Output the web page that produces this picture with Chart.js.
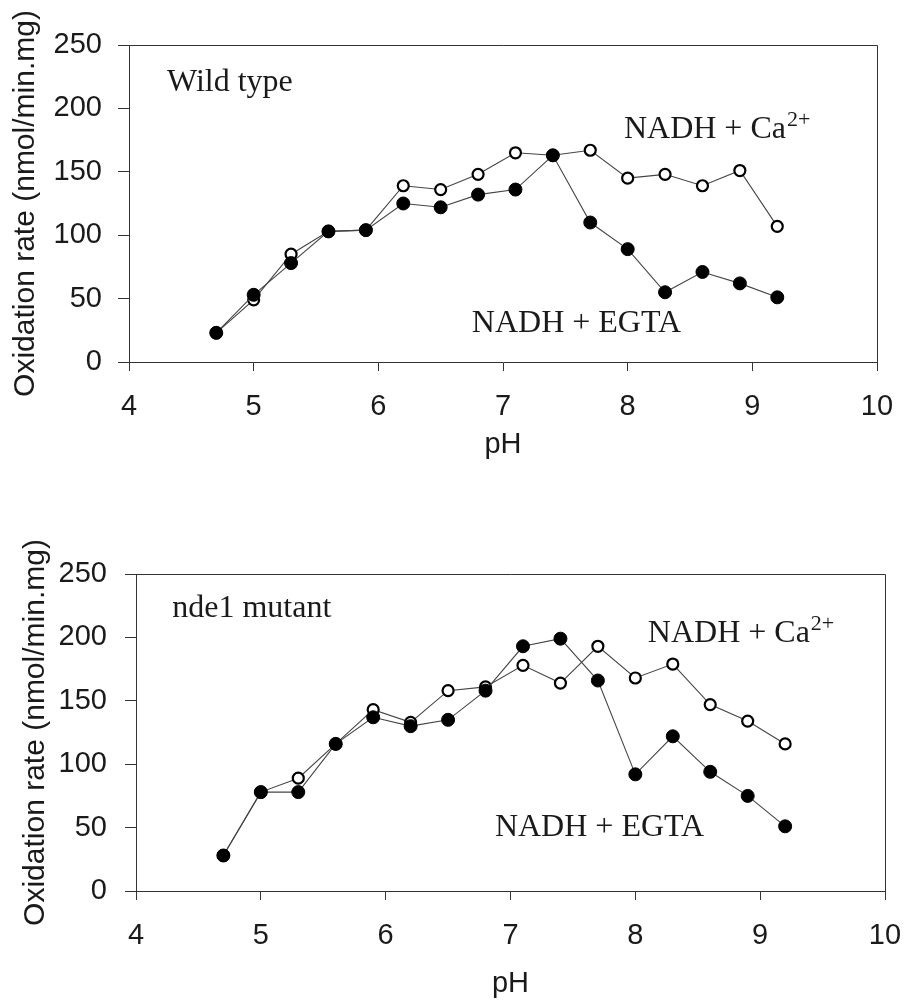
<!DOCTYPE html>
<html>
<head>
<meta charset="utf-8">
<script src="https://cdn.jsdelivr.net/npm/chart.js@4/dist/chart.umd.min.js"></script>
<style>
  html, body { margin: 0; padding: 0; background: #fff; }
  .wrap { position: absolute; left: 0; width: 905px; height: 500px; }
  canvas { display: block; }
</style>
</head>
<body>
<div class="wrap" style="top:0"><canvas id="c1" width="905" height="500"></canvas></div>
<div class="wrap" style="top:500px"><canvas id="c2" width="905" height="500"></canvas></div>
<script>
// ---- Data ----
const pH = [4.7, 5.0, 5.3, 5.6, 5.9, 6.2, 6.5, 6.8, 7.1, 7.4, 7.7, 8.0, 8.3, 8.6, 8.9, 9.2];

// Wild type
const wtCa   = [23, 49, 85, 103, 104, 139, 136, 148, 165, 163, 167, 145, 148, 139, 151, 107];
const wtEGTA = [23, 53, 78, 103, 104, 125, 122, 132, 136, 163, 110, 89, 55, 71, 62, 51];

// nde1 mutant
const mutCa   = [28, 78, 89, 116, 143, 133, 158, 161, 178, 164, 193, 168, 179, 147, 134, 116];
const mutEGTA = [28, 78, 78, 116, 137, 130, 135, 158, 193, 199, 166, 92, 122, 94, 75, 51];

const xTicks = [4, 5, 6, 7, 8, 9, 10];
const yTicks = [0, 50, 100, 150, 200, 250];
const yTitle = 'Oxidation rate (nmol/min.mg)';
const xTitle = 'pH';

// ---- Helpers ----
const toXY = (ys) => pH.map((x, i) => ({ x: x, y: ys[i] }));
const INK = '#1a1a1a';
const SANS = "'Liberation Sans', Arial, sans-serif";
const SERIF = "'Liberation Serif', 'Times New Roman', serif";

const framePlugin = {
  id: 'frame',
  beforeDatasetsDraw(chart) {
    const a = chart.chartArea, ctx = chart.ctx;
    ctx.save();
    ctx.strokeStyle = '#333';
    ctx.lineWidth = 1;
    ctx.beginPath();
    ctx.moveTo(a.left, a.top + 0.5);
    ctx.lineTo(a.right + 0.5, a.top + 0.5);
    ctx.lineTo(a.right + 0.5, a.bottom);
    ctx.stroke();
    ctx.restore();
  }
};

const labelPlugin = {
  id: 'labels',
  afterDatasetsDraw(chart, args, opts) {
    const ctx = chart.ctx, xs = chart.scales.x, ys = chart.scales.y;
    ctx.save();
    ctx.fillStyle = INK;
    ctx.textBaseline = 'alphabetic';
    ctx.textAlign = 'left';
    (opts.items || []).forEach(it => {
      const px = xs.getPixelForValue(it.x);
      const py = ys.getPixelForValue(it.y);
      ctx.font = '32px ' + SERIF;
      ctx.fillText(it.text, px, py);
      if (it.sup) {
        const w = ctx.measureText(it.text).width;
        ctx.font = '22px ' + SERIF;
        ctx.fillText(it.sup, px + w + 1, py - 12);
      }
    });
    ctx.restore();
  }
};

function makeChart(id, ca, egta, geom, labels) {
  const ctx = document.getElementById(id).getContext('2d');
  return new Chart(ctx, {
    type: 'line',
    data: {
      datasets: [
        {
          label: 'NADH + EGTA',
          data: toXY(egta),
          borderColor: '#444',
          borderWidth: 1.1,
          pointRadius: 6.5,
          pointBackgroundColor: '#000',
          pointBorderColor: '#000',
          pointBorderWidth: 1,
          tension: 0,
          fill: false
        },
        {
          label: 'NADH + Ca2+',
          data: toXY(ca),
          borderColor: '#444',
          borderWidth: 1.1,
          pointRadius: 5.5,
          pointBackgroundColor: '#fff',
          pointBorderColor: '#000',
          pointBorderWidth: 2.2,
          tension: 0,
          fill: false
        }
      ]
    },
    options: {
      responsive: false,
      devicePixelRatio: 1,
      animation: false,
      events: [],
      layout: { padding: { left: 0, top: geom.top, right: geom.right, bottom: 0 } },
      plugins: {
        legend: { display: false },
        tooltip: { enabled: false },
        labels: { items: labels }
      },
      scales: {
        x: {
          type: 'linear',
          min: 4, max: 10,
          afterBuildTicks: (s) => { s.ticks = xTicks.map(v => ({ value: v })); },
          afterFit: (s) => { s.height = geom.xh; s.paddingLeft = 0; s.paddingRight = 0; },
          border: { display: true, color: '#333', width: 1 },
          grid: { drawOnChartArea: false, drawTicks: true, tickLength: 9, color: '#333', lineWidth: 1 },
          ticks: {
            color: INK, padding: 21,
            font: { family: SANS, size: 29, lineHeight: 1 },
            maxRotation: 0, autoSkip: false
          },
          title: {
            display: true, text: xTitle, color: INK,
            font: { family: SANS, size: 29, lineHeight: 1 },
            padding: { top: 0, bottom: geom.xtb }
          }
        },
        y: {
          type: 'linear',
          min: 0, max: 250,
          afterBuildTicks: (s) => { s.ticks = yTicks.map(v => ({ value: v })); },
          afterFit: (s) => { s.width = geom.yw; s.paddingTop = 0; s.paddingBottom = 0; },
          border: { display: true, color: '#333', width: 1 },
          grid: { drawOnChartArea: false, drawTicks: true, tickLength: 11, color: '#333', lineWidth: 1 },
          ticks: {
            color: INK, padding: geom.ytp,
            font: { family: SANS, size: 29, lineHeight: 1 }
          },
          title: {
            display: true, text: yTitle, color: INK,
            font: { family: SANS, size: 30, lineHeight: 1 },
            padding: { top: geom.ytt, bottom: 0 }
          }
        }
      }
    },
    plugins: [framePlugin, labelPlugin]
  });
}

makeChart('c1', wtCa, wtEGTA,
  { top: 45, right: 28, xh: 138, yw: 129, xtb: 41, ytp: 16, ytt: 11 },
  [
    { text: 'Wild type', x: 4.305, y: 214 },
    { text: 'NADH + Ca', sup: '2+', x: 7.97, y: 177 },
    { text: 'NADH + EGTA', x: 6.75, y: 24 }
  ]);

makeChart('c2', mutCa, mutEGTA,
  { top: 74, right: 20, xh: 109, yw: 136, xtb: 2, ytp: 18, ytt: 21 },
  [
    { text: 'nde1 mutant', x: 4.29, y: 216 },
    { text: 'NADH + Ca', sup: '2+', x: 8.10, y: 196 },
    { text: 'NADH + EGTA', x: 6.875, y: 43 }
  ]);
</script>
</body>
</html>
